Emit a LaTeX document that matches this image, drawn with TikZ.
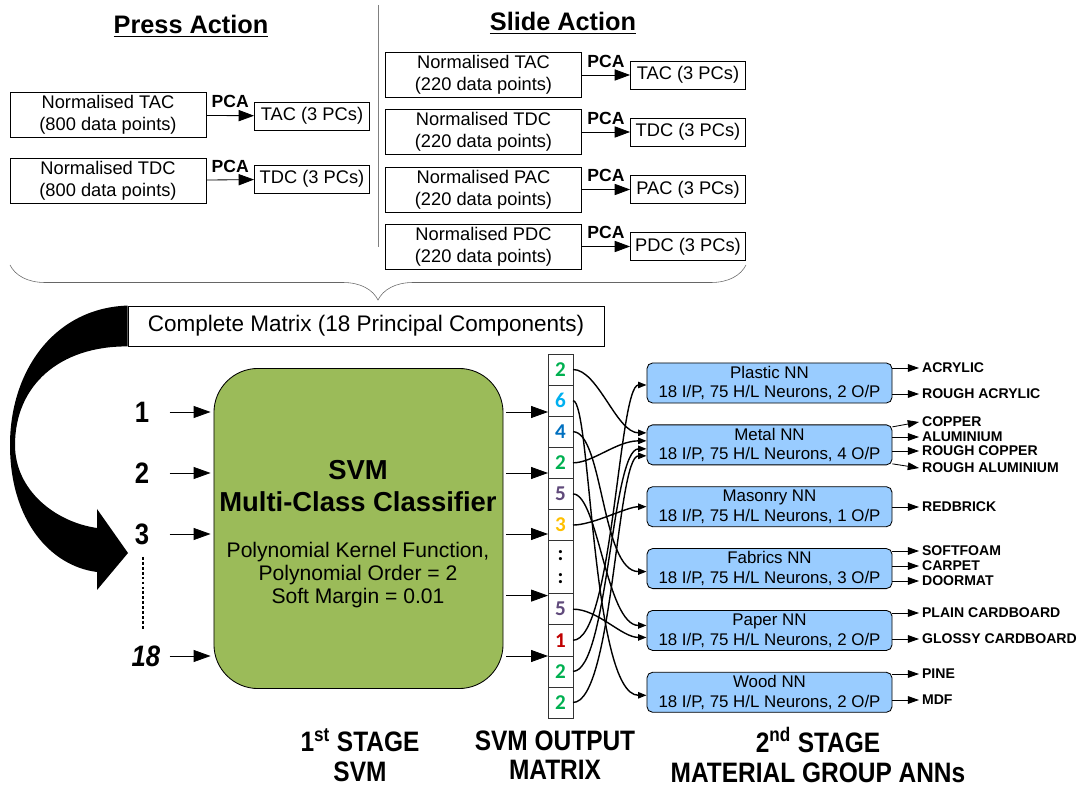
\documentclass[tikz,border=0pt]{standalone}
\usepackage{fontspec}
\setmainfont{Liberation Sans}
\newfontfamily\narrowfont[FakeStretch=0.87]{Liberation Sans}
\newfontfamily\digitfont{Carlito}
\usetikzlibrary{arrows.meta,positioning,calc,decorations.pathreplacing}
\definecolor{svmgreen}{RGB}{155,187,89}
\definecolor{nnblue}{RGB}{153,204,255}
\definecolor{cgreen}{RGB}{0,176,80}
\definecolor{ccyan}{RGB}{0,176,240}
\definecolor{cblue}{RGB}{0,112,192}
\definecolor{cpurple}{RGB}{96,74,123}
\definecolor{cyellow}{RGB}{255,192,0}
\definecolor{cred}{RGB}{192,0,0}
\tikzstyle{headtxt} = [font=\bfseries\fontsize{18}{20}\selectfont]
\tikzstyle{normbox} = [rectangle, draw, semithick, minimum width=4.9cm, minimum height=1.125cm,
    align=center, inner sep=1pt, font=\fontsize{13}{15.5}\selectfont]
\tikzstyle{pcbox} = [rectangle, draw, semithick, minimum width=2.875cm, minimum height=0.7cm,
    inner sep=1pt, font=\fontsize{13}{15}\selectfont]
\tikzstyle{pca} = [above, inner sep=1pt, yshift=4pt, font=\bfseries\fontsize{12.5}{14}\selectfont]
\tikzstyle{pcaarr} = [-{Triangle[length=11pt,width=8pt]}, semithick]
\tikzstyle{bigarr} = [-{Triangle[length=12pt,width=8.5pt]}, semithick]
\tikzstyle{cmbox} = [rectangle, draw, semithick, minimum width=11.9cm, minimum height=1cm,
    font=\fontsize{16}{18}\selectfont]
\tikzstyle{innum} = [font=\narrowfont\bfseries\fontsize{21}{23}\selectfont]
\tikzstyle{mcell} = [rectangle, draw=black!80, minimum width=0.625cm, minimum height=0.7775cm,
    inner sep=0pt, outer sep=0pt, font=\digitfont\bfseries\fontsize{15}{16}\selectfont]
\tikzstyle{nnbox} = [rectangle, draw, semithick, fill=nnblue, rounded corners=4pt,
    minimum width=6.125cm, minimum height=1cm, align=center, inner sep=1pt,
    font=\fontsize{12}{14}\selectfont]
\tikzstyle{conn} = [-{Triangle[length=6pt,width=4.5pt]}, line width=1pt]
\tikzstyle{outarr} = [-{Triangle[length=8pt,width=5.5pt]}, semithick]
\tikzstyle{outtxt} = [anchor=west, inner sep=2pt, font=\bfseries\fontsize{10}{12}\selectfont]
\tikzstyle{stage} = [align=center, font=\narrowfont\bfseries\fontsize{20}{21}\selectfont]

\begin{document}
\begin{tikzpicture}[x=0.025cm,y=-0.025cm]
  \useasboundingbox (0,0) rectangle (1088,787);

  \node[headtxt] (press) at (191,26) {\underline{Press Action}};
  \node[headtxt] (slide) at (563,23) {\underline{Slide Action}};
  \draw[gray,semithick] (378,5) -- (378,247);

  \node[normbox] (pTAC) at (108,115) {Normalised TAC\\(800 data points)};
  \node[pcbox]   (pTAC-out) at (312,116) {TAC (3 PCs)};
  \node[normbox] (pTDC) at (108,181) {Normalised TDC\\(800 data points)};
  \node[pcbox]   (pTDC-out) at (312,179) {TDC (3 PCs)};
  \path[pcaarr] (pTAC) edge node[pca] {PCA} (pTAC-out)
                (pTDC) edge node[pca] {PCA} (pTDC-out);

  \foreach \s/\y in {TAC/75,TDC/132,PAC/189.5,PDC/246.5}{
    \node[normbox] (s\s) at (483.5,\y) {Normalised \s\\(220 data points)};
    \node[pcbox]   (s\s-out) at (688,\y) {\s\ (3 PCs)};
    \path[pcaarr] (s\s) edge node[pca] {PCA} (s\s-out);
  }

  \draw[gray!80!black,decorate,decoration={brace,mirror,amplitude=0.875cm}] (10,265) -- (746,265);

  \node[cmbox] (complete) at (366,326) {Complete Matrix (18 Principal Components)};
  \fill (complete.north west) .. controls (55,308) and (10,370) .. (10,445)
        .. controls (10,520) and (50,566) .. (97,572) -- (97,590) -- (128,553) -- (97,509) -- (97,528)
        .. controls (55,522) and (15,490) .. (15,445)
        .. controls (15,385) and (60,346) .. (complete.south west) -- cycle;

  \node[draw, semithick, fill=svmgreen, rounded corners=1.1cm, minimum width=7.225cm,
        minimum height=8cm] (svm) at (358.5,528.5) {};
  \node[align=center, font=\bfseries\fontsize{19.5}{22.5}\selectfont] (svmtitle) at (358,486)
        {SVM\\Multi-Class Classifier};
  \node[align=center, font=\fontsize{15}{16.3}\selectfont] (svmparam) at (358,575)
        {Polynomial Kernel Function,\\Polynomial Order = 2\\Soft Margin = 0.01};

  \node[innum] (in1) at (142,412) {1};
  \node[innum] (in2) at (142,473) {2};
  \node[innum] (in3) at (142,534) {3};
  \node[innum] (in18) at (146,656) {\itshape 18};
  \foreach \n in {in1,in2,in3,in18}
    \draw[bigarr] ($(svm.west |- \n)+(-44,0)$) -- ($(svm.west |- \n)+(-3,0)$);
  \draw[line width=1pt, dash pattern=on 2pt off 1.5pt] (143,557) -- (143,630);

  \node[mcell,text=cgreen] (c1) at (560.5,369.5) {2};
  \node[mcell,text=ccyan,below=0pt of c1] (c2) {6};
  \node[mcell,text=cblue,below=0pt of c2] (c3) {4};
  \node[mcell,text=cgreen,below=0pt of c3] (c4) {2};
  \node[mcell,text=cpurple,below=0pt of c4] (c5) {5};
  \node[mcell,text=cyellow,below=0pt of c5] (c6) {3};
  \node[mcell,minimum height=1.325cm,align=center,below=0pt of c6] (c7) {:\\:};
  \node[mcell,text=cpurple,below=0pt of c7] (c8) {5};
  \node[mcell,text=cred,below=0pt of c8] (c9) {1};
  \node[mcell,text=cgreen,below=0pt of c9] (c10) {2};
  \node[mcell,text=cgreen,below=0pt of c10] (c11) {2};

  \foreach \n/\c in {in1/c2,in2/c4,in3/c6,in18/c10}
    \draw[bigarr] ($(svm.east |- \n)+(3,0)$) -- (\c.west |- \n);
  \draw[bigarr] ($(svm.east |- c8.north)+(3,2)$) -- ($(c8.north west)+(0,2)$);

  \node[nnbox] (plastic) at (769.5,383) {Plastic NN\\18 I/P, 75 H/L Neurons, 2 O/P};
  \node[nnbox,below=0.525cm of plastic] (metal) {Metal NN\\18 I/P, 75 H/L Neurons, 4 O/P};
  \node[nnbox,below=0.525cm of metal] (masonry) {Masonry NN\\18 I/P, 75 H/L Neurons, 1 O/P};
  \node[nnbox,below=0.525cm of masonry] (fabrics) {Fabrics NN\\18 I/P, 75 H/L Neurons, 3 O/P};
  \node[nnbox,below=0.525cm of fabrics] (paper) {Paper NN\\18 I/P, 75 H/L Neurons, 2 O/P};
  \node[nnbox,below=0.525cm of paper] (wood) {Wood NN\\18 I/P, 75 H/L Neurons, 2 O/P};

  \draw[conn] (c1.east) .. controls +(25,0) and +(-30,0) .. ($(metal.west)+(0,-12)$);
  \draw[conn] (c2.east) .. controls +(18,0) and +(-55,0) .. ($(wood.west)+(0,3)$);
  \draw[conn] (c3.east) .. controls +(30,0) and +(-45,0) .. ($(fabrics.west)+(0,3)$);
  \draw[conn] (c4.east) .. controls +(20,0) and +(-30,0) .. ($(metal.west)+(0,-4)$);
  \draw[conn] (c5.east) .. controls +(25,0) and +(-40,0) .. ($(paper.west)+(0,-5)$);
  \draw[conn] (c6.east) .. controls +(20,0) and +(-20,0) .. (masonry.west);
  \draw[conn] (c8.east) .. controls +(25,0) and +(-25,0) .. ($(paper.west)+(0,7)$);
  \draw[conn] (c9.east) .. controls +(40,0) and +(-28,0) .. ($(plastic.west)+(0,2)$);
  \draw[conn] (c10.east) .. controls +(35,0) and +(-35,0) .. ($(metal.west)+(0,4)$);
  \draw[conn] (c11.east) .. controls +(40,0) and +(-30,0) .. ($(metal.west)+(0,11)$);

  \foreach \b/\l/\y/\t in {plastic/acr/368/ACRYLIC, plastic/racr/394/ROUGH ACRYLIC,
      metal/alu/437/ALUMINIUM, metal/rcop/451/ROUGH COPPER, masonry/brick/507/REDBRICK,
      fabrics/foam/551/SOFTFOAM, fabrics/carpet/566/CARPET, fabrics/door/581/DOORMAT,
      paper/plain/613/PLAIN CARDBOARD, paper/glossy/639/GLOSSY CARDBOARD,
      wood/pine/674/PINE, wood/mdf/700/MDF}{
    \node[outtxt] (\l) at (919,\y) {\t};
    \draw[outarr] (\b.east |- \l) -- (\l.west);
  }
  \node[outtxt] (cop) at (919,422) {COPPER};
  \node[outtxt] (ralu) at (919,468) {ROUGH ALUMINIUM};
  \draw[outarr] ($(metal.east)+(0,-18)$) -- (cop.west);
  \draw[outarr] ($(metal.east)+(0,19)$) -- (ralu.west);

  \node[stage] (st1) at (360,755) {1\textsuperscript{st} STAGE\\SVM};
  \node[stage] (st2) at (555,755) {SVM OUTPUT\\MATRIX};
  \node[stage] (st3) at (818,755) {2\textsuperscript{nd} STAGE\\MATERIAL GROUP ANNs};
\end{tikzpicture}
\end{document}
